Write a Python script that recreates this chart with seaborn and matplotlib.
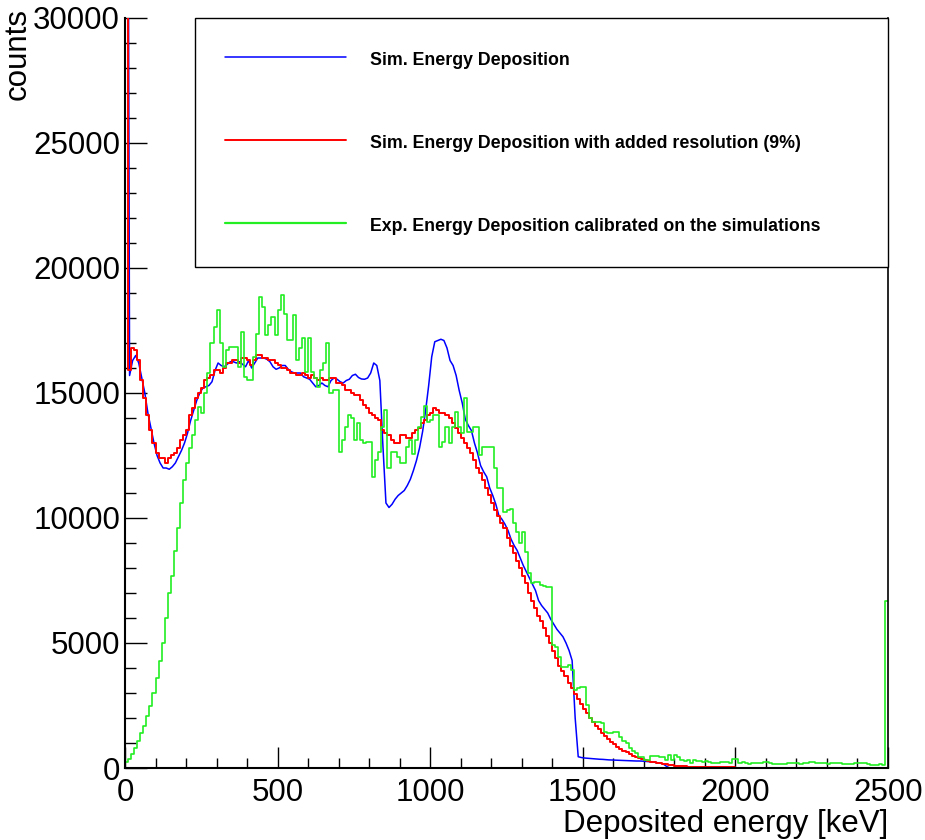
import numpy as np
import pandas as pd
import matplotlib
matplotlib.use("Agg")
import matplotlib.pyplot as plt
import seaborn as sns
from matplotlib.ticker import MultipleLocator
from matplotlib.lines import Line2D

# ---------------- data (counts per 10 keV bin, 0 .. 2500 keV) ----------------
e_min, e_max, bin_width = 0, 2500, 10

# Simulated energy deposition (smooth blue curve), bins 0 .. 1790 keV
sim_raw = [
    60000, 15700, 16300, 16500, 16200, 15600, 15000, 14200, 13600, 13000,
    12500, 12200, 12000, 12000, 11950, 12050, 12200, 12450, 12700, 13000,
    13400, 13900, 14300, 14700, 15000, 15200, 15250, 15300, 15450, 15900,
    16200, 16100, 16050, 16150, 16250, 16250, 16200, 16250, 16150, 16050,
    16300, 16000, 16200, 16400, 16400, 16400, 16350, 16250, 16050, 15950,
    16000, 16100, 16100, 15950, 15850, 15800, 15800, 15800, 15650, 15600,
    15550, 15400, 15250, 15300, 15400, 15300, 15250, 15500, 15600, 15550,
    15450, 15400, 15500, 15550, 15700, 15750, 15620, 15560, 15550, 15600,
    15800, 16200, 16100, 15500, 12900, 10600, 10420, 10550, 10750, 10900,
    11000, 11100, 11300, 11550, 11900, 12300, 12800, 13450, 14300, 15300,
    16450, 17050, 17100, 17150, 17100, 16800, 16300, 16100, 15700, 15100,
    14600, 13950, 13700, 13500, 13000, 12600, 12100, 11850, 11650, 11200,
    10900, 10550, 10100, 9950, 9750, 9500, 9150, 8900, 8700, 8400,
    8100, 7850, 7600, 7350, 7100, 6700, 6500, 6350, 6200, 5950,
    5750, 5550, 5400, 5250, 5000, 4700, 4300, 2000, 450, 420,
    400, 390, 380, 370, 360, 350, 345, 335, 325, 320,
    315, 310, 305, 300, 295, 290, 285, 280, 280, 275,
    265, 255, 245, 230, 210, 190, 150, 60, 0,
]

# Simulated energy deposition with added resolution (9%) (red histogram)
sim_resolution = [
    60000, 15900, 16800, 16700, 16300, 15500, 14800, 14100, 13500, 13000,
    12600, 12400, 12400, 12200, 12400, 12500, 12600, 12800, 13100, 13300,
    13500, 14100, 14400, 14800, 15000, 15200, 15500, 15600, 15700, 15900,
    15900, 15800, 16000, 16200, 16200, 16300, 16300, 16200, 16400, 16400,
    16300, 16100, 16300, 16500, 16500, 16400, 16400, 16300, 16300, 16200,
    16100, 16000, 16000, 15900, 15800, 15800, 15700, 15700, 15800, 15700,
    15600, 15700, 15600, 15500, 15600, 15500, 15500, 15600, 15600, 15400,
    15400, 15300, 15100, 15100, 15000, 14900, 14900, 14700, 14500, 14400,
    14200, 14100, 14000, 13900, 13500, 13400, 13300, 13100, 13000, 13000,
    13300, 13300, 13200, 13200, 13400, 13500, 13600, 13800, 13900, 14100,
    14200, 14400, 14300, 14200, 14200, 14100, 14000, 13800, 13600, 13400,
    13200, 13000, 12800, 12600, 12300, 12000, 11800, 11500, 11200, 10900,
    10600, 10300, 10100, 9800, 9600, 9200, 8900, 8600, 8300, 8000,
    7700, 7400, 7000, 6700, 6400, 6100, 5900, 5600, 5300, 5000,
    4700, 4400, 4100, 3900, 3700, 3400, 3200, 2950, 2750, 2550,
    2350, 2200, 2000, 1850, 1700, 1550, 1400, 1280, 1150, 1050,
    950, 860, 780, 700, 630, 560, 500, 450, 400, 360,
    320, 290, 260, 230, 210, 190, 170, 150, 130, 115,
    100, 90, 80, 70, 60, 55, 50, 45, 40, 35,
    32, 30, 28, 27, 26, 25, 24, 23, 22, 21,
    20, 20, 19, 19, 18, 18, 17, 17, 16, 16,
    15, 15, 15, 14, 14, 14, 13, 13, 13, 12,
    12, 12, 12, 11, 11, 11, 11, 10, 10, 10,
    10, 10, 9, 9, 9, 9, 9, 8, 8, 8,
    8, 8, 8, 7, 7, 7, 7, 7, 6, 6,
]

# Experimental energy deposition calibrated on the simulations (green histogram)
exp_calibrated = [
    250, 350, 550, 800, 1100, 1400, 1700, 2100, 2500, 3000,
    3600, 4300, 5000, 6000, 7000, 7700, 8700, 9600, 10600, 11500,
    12200, 12800, 13300, 13900, 14450, 14200, 15000, 15800, 17000, 17650,
    18320, 17000, 16050, 16720, 16850, 16850, 16850, 16050, 17450, 15650,
    15520, 15520, 16450, 17350, 18850, 18420, 17320, 17720, 18050, 17300,
    18320, 18920, 18150, 17120, 17120, 18120, 16300, 16790, 17190, 15850,
    17190, 15850, 15590, 15250, 15920, 16190, 16990, 14990, 15120, 15120,
    12650, 13120, 13650, 14120, 13990, 13120, 13790, 13120, 12990, 13050,
    13050, 11650, 12320, 12650, 13650, 14320, 11990, 12650, 12650, 12450,
    12190, 12190, 12850, 13120, 12550, 13120, 13650, 14050, 14480, 13820,
    13920, 14120, 14120, 12850, 13050, 13650, 12990, 13650, 14250, 13650,
    13400, 14800, 13450, 13450, 13650, 13650, 12500, 12850, 12850, 12850,
    12850, 11990, 11200, 11200, 10250, 10300, 10350, 9800, 9450, 9000,
    9450, 8650, 7790, 7390, 7450, 7450, 7320, 7300, 7250, 7250,
    4920, 4850, 4450, 4050, 4050, 4120, 3920, 3120, 3190, 3250,
    3250, 2520, 1990, 1850, 1850, 1850, 1790, 1450, 1400, 1390,
    1450, 1450, 1250, 1100, 990, 800, 700, 590, 450, 450,
    320, 320, 480, 480, 480, 450, 450, 320, 520, 320,
    520, 450, 320, 300, 320, 190, 320, 300, 280, 260,
    300, 250, 200, 190, 190, 250, 230, 250, 200, 350,
    380, 200, 230, 200, 180, 190, 200, 220, 200, 230,
    250, 200, 180, 170, 160, 150, 180, 200, 190, 200,
    190, 170, 200, 220, 240, 250, 220, 190, 200, 190,
    180, 200, 190, 200, 190, 170, 160, 150, 170, 190,
    200, 190, 210, 150, 120, 110, 140, 160, 130, 6700,
]

legend_labels = [
    "Sim. Energy Deposition",
    "Sim. Energy Deposition with added resolution (9%)",
    "Exp. Energy Deposition calibrated on the simulations",
]
x_title = "Deposited energy [keV]"
y_title = "counts"

# ---------------- style ----------------
sns.set_style("ticks")
plt.rcParams["font.family"] = ["Liberation Sans", "DejaVu Sans"]
for k in ("text.color", "axes.labelcolor", "xtick.color", "ytick.color",
          "axes.edgecolor"):
    plt.rcParams[k] = "black"

lab_font, lab_size = "Liberation Sans", 22.5

edges = np.arange(e_min, e_max + bin_width, bin_width)
centers = edges[:-1] + bin_width / 2

df_raw = pd.DataFrame({"E": centers[:len(sim_raw)], "counts": sim_raw})
df_res = pd.DataFrame({"E": centers, "counts": sim_resolution})
df_exp = pd.DataFrame({"E": centers, "counts": exp_calibrated})

W, H = 925, 840
fig = plt.figure(figsize=(W / 100, H / 100), dpi=100)
ax = fig.add_axes([125 / W, 1 - 768 / H, 763 / W, 750 / H])

c_blue, c_red, c_green = "#0000ff", "#ff0000", "#22ee22"

sns.lineplot(data=df_raw, x="E", y="counts", color=c_blue, linewidth=1.1,
             ax=ax, estimator=None, sort=False)
sns.histplot(data=df_res, x="E", weights="counts", binwidth=bin_width,
             binrange=(e_min, e_max), element="step", fill=False,
             color=c_red, linewidth=1.4, ax=ax)
sns.histplot(data=df_exp, x="E", weights="counts", binwidth=bin_width,
             binrange=(e_min, e_max), element="step", fill=False,
             color=c_green, linewidth=1.2, ax=ax)

ax.set_xlim(e_min, e_max)
ax.set_ylim(0, 30000)
ax.set_xlabel("")
ax.set_ylabel("")

ax.xaxis.set_major_locator(MultipleLocator(500))
ax.xaxis.set_minor_locator(MultipleLocator(100))
ax.yaxis.set_major_locator(MultipleLocator(5000))
ax.yaxis.set_minor_locator(MultipleLocator(1000))
ax.tick_params(which="both", direction="in", top=False, right=False,
               color="black", labelcolor="black", width=1.0)
ax.tick_params(axis="x", which="major", length=15, pad=7)
ax.tick_params(axis="x", which="minor", length=7)
ax.tick_params(axis="y", which="major", length=16, pad=3.5)
ax.tick_params(axis="y", which="minor", length=8)
for lab in ax.get_xticklabels() + ax.get_yticklabels():
    lab.set_fontfamily(lab_font)
    lab.set_fontsize(lab_size)

ax.spines["top"].set_visible(False)
for s in ("left", "bottom"):
    ax.spines[s].set_linewidth(1.5)
ax.spines["right"].set_linewidth(1.2)
for s in ax.spines.values():
    s.set_color("black")

handles = [Line2D([], [], color=c, linewidth=lw)
           for c, lw in ((c_blue, 1.1), (c_red, 1.4), (c_green, 1.6))]
leg = ax.legend(handles, legend_labels, loc="upper left",
                bbox_to_anchor=(70 / 763, 1.0, 693 / 763, 0.0), mode="expand",
                borderaxespad=0, borderpad=1.7, labelspacing=3.46,
                handlelength=6.8, handleheight=1.5, handletextpad=1.35,
                prop={"family": "Liberation Sans", "weight": "bold", "size": 12.8},
                frameon=True, fancybox=False, framealpha=1, edgecolor="black")
leg.get_frame().set_linewidth(1.0)
for t in leg.get_texts():
    t.set_color("black")

fig.text(18 / W, 1 - 8 / H, y_title, rotation=90, ha="center", va="top",
         family=lab_font, fontsize=lab_size, color="black")
fig.text(888 / W, 1 - 832 / H, x_title, ha="right", va="baseline",
         family=lab_font, fontsize=lab_size, color="black")

fig.savefig("out.png", dpi=100)
